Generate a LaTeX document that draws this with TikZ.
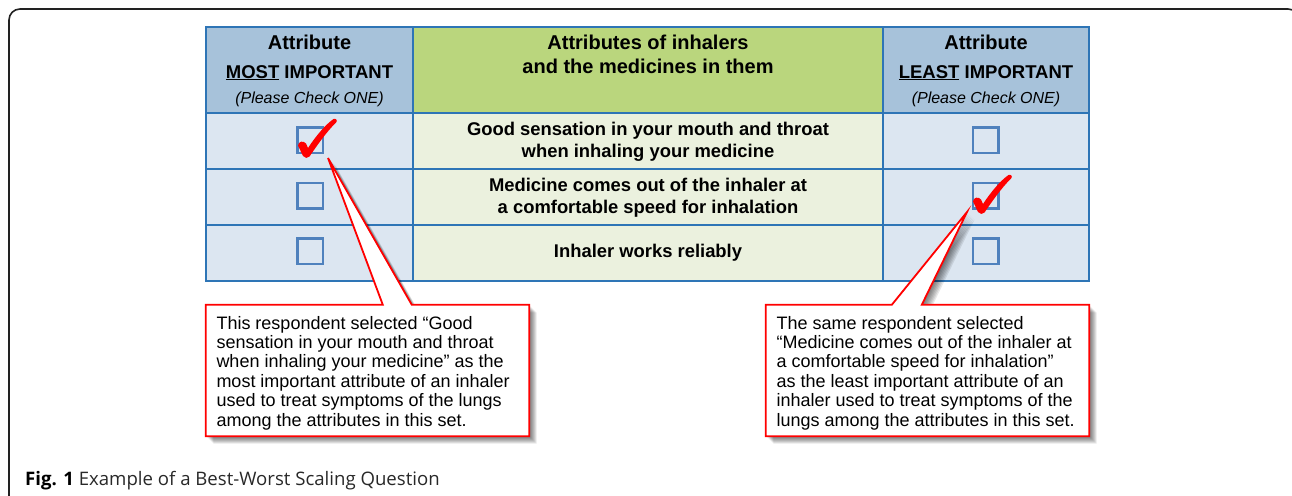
\documentclass[tikz,border=0pt]{standalone}
\usepackage{fontspec}
\setmainfont{Liberation Sans}
\newfontfamily\capfont{Open Sans}
\usetikzlibrary{calc}
\definecolor{hdrside}{RGB}{167,194,218}
\definecolor{hdrmid}{RGB}{186,214,125}
\definecolor{bodyside}{RGB}{220,230,241}
\definecolor{bodymid}{RGB}{235,241,222}
\definecolor{gridblue}{RGB}{46,117,182}
\definecolor{boxblue}{RGB}{79,129,189}
\definecolor{checkred}{RGB}{255,0,0}
\definecolor{framegray}{RGB}{34,34,34}
\definecolor{capgray}{RGB}{40,40,40}
\tikzset{
  frameline/.style={draw=framegray,line width=1.6pt,rounded corners=11pt},
  gridline/.style={draw=gridblue,line width=2pt},
  hdrbig/.style={inner sep=0pt,anchor=base,font=\bfseries\fontsize{20}{22}\selectfont},
  hdr/.style={inner sep=0pt,anchor=base,font=\bfseries\fontsize{18.5}{22}\selectfont},
  hnote/.style={inner sep=0pt,anchor=base,font=\itshape\fontsize{16}{18}\selectfont},
  body/.style={inner sep=0pt,anchor=base,font=\bfseries\fontsize{18.4}{21}\selectfont},
  cbox/.style={draw=boxblue,line width=2.5pt,rectangle,minimum size=25.5pt,inner sep=0pt},
  calloutbox/.style={rectangle,minimum width=323pt,minimum height=131pt,inner sep=0pt},
  callout/.style={fill=white,draw=checkred,line width=1.8pt,line join=miter},
  ctext/.style={inner sep=0pt,anchor=north west,align=left,font=\fontsize{18}{19.4}\selectfont},
  checkmark/.pic={\fill[checkred] (-8.5,-10) .. controls (-8,-14.5) and (-3,-15) .. (-0.5,-12) -- (1.5,-7.5) .. controls (9,-19) and (19,-31) .. (27,-36.5) .. controls (29.5,-37.5) and (31.5,-35) .. (29.5,-33) .. controls (19,-22.5) and (9.5,-8.5) .. (3,1) .. controls (1.5,3) and (-2,3) .. (-3.5,0.5) -- cycle;}
}
\newcommand\mycallout[4]{%
  \foreach \s in {1.5,2.5,3.5,4.5,5.5,6.5,7.5}{%
    \begin{scope}[transform canvas={shift={(\s,\s)}}]
    \fill[black,opacity=0.09] (#1.north west) -- ($(#1.north west)+(#2,0)$) -- (#4) -- ($(#1.north west)+(#3,0)$) -- (#1.north east) -- (#1.south east) -- (#1.south west) -- cycle;
    \end{scope}}
  \path[callout] (#1.north west) -- ($(#1.north west)+(#2,0)$) -- (#4) -- ($(#1.north west)+(#3,0)$) -- (#1.north east) -- (#1.south east) -- (#1.south west) -- cycle;
}
\begin{document}
\begin{tikzpicture}[x=1pt,y=-1pt]
\useasboundingbox (0,0) rectangle (1292,495);
\begin{scope}
  \clip (0,0) rectangle (1292,495);
  \draw[frameline] (9,9) rectangle (1299,530);
\end{scope}
% table fills
\fill[hdrside] (206,27) rectangle (413,113);
\fill[hdrmid] (413,27) rectangle (883,113);
\fill[hdrside] (883,27) rectangle (1089,113);
\fill[bodyside] (206,113) rectangle (413,281);
\fill[bodymid] (413,113) rectangle (883,281);
\fill[bodyside] (883,113) rectangle (1089,281);
% grid
\draw[gridline] (413,27) -- (413,281) (883,27) -- (883,281)
  (206,113) -- (1089,113) (206,169) -- (1089,169) (206,225) -- (1089,225);
\draw[gridline] (206,27) rectangle (1089,281);
% header text
\node[hdrbig] (hl1) at (309.5,50) {Attribute};
\node[hdr] (hl2) at (309.5,78) {\underline{MOST} IMPORTANT};
\node[hnote] (hl3) at (309.5,103) {(Please Check ONE)};
\node[hdrbig] (hm1) at (648,50) {Attributes of inhalers};
\node[hdrbig] (hm2) at (648,74) {and the medicines in them};
\node[hdrbig] (hr1) at (986,50) {Attribute};
\node[hdr] (hr2) at (986,78) {\underline{LEAST} IMPORTANT};
\node[hnote] (hr3) at (986,103) {(Please Check ONE)};
% body text
\node[body] (r1a) at (648,135) {Good sensation in your mouth and throat};
\node[body] (r1b) at (648,157) {when inhaling your medicine};
\node[body] (r2a) at (648,191.5) {Medicine comes out of the inhaler at};
\node[body] (r2b) at (648,213.5) {a comfortable speed for inhalation};
\node[body] (r3a) at (648,257) {Inhaler works reliably};
% check boxes
\node[cbox,fill=bodyside] (bl1) at (310,140) {};
\node[cbox,fill=bodyside] (bl2) at (310,195.5) {};
\node[cbox,fill=bodyside] (bl3) at (310,251) {};
\node[cbox,fill=bodyside] (br1) at (985.5,140) {};
\node[cbox,fill=bodyside] (br2) at (985.5,195.5) {};
\node[cbox,fill=bodyside] (br3) at (985.5,251) {};
% callouts
\node[calloutbox] (c1) at (367.5,370.5) {};
\node[calloutbox] (c2) at (927.5,370.5) {};
\coordinate (p1) at (328,158);
\coordinate (p2) at (967,212);
\mycallout{c1}{177}{206}{p1}
\mycallout{c2}{126}{156}{p2}
\node[ctext] (t1) at ($(c1.north west)+(10.5,11)$) {This respondent selected “Good\\sensation in your mouth and throat\\when inhaling your medicine” as the\\most important attribute of an inhaler\\used to treat symptoms of the lungs\\among the attributes in this set.};
\node[ctext] (t2) at ($(c2.north west)+(10.5,11)$) {The same respondent selected\\“Medicine comes out of the inhaler at\\a comfortable speed for inhalation”\\as the least important attribute of an\\inhaler used to treat symptoms of the\\lungs among the attributes in this set.};
% check marks
\pic at (306.5,155.5) {checkmark};
\pic at (981.5,211.5) {checkmark};
% caption
\node[inner sep=0pt,anchor=base west,text=capgray,font=\capfont\fontsize{18.6}{21}\selectfont] (cap) at (25,485) {\textbf{\color{black}Fig. 1} Example of a Best-Worst Scaling Question};
\end{tikzpicture}
\end{document}
